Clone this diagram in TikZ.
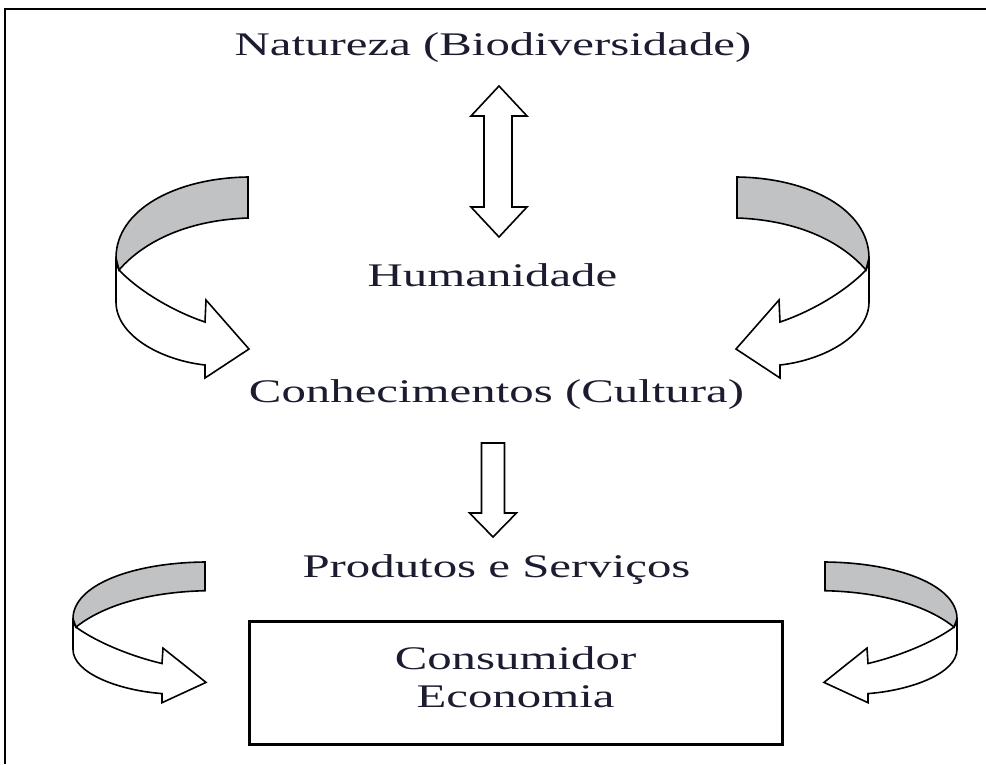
\documentclass[tikz,border=0pt]{standalone}
\usepackage{fontspec}
\setmainfont{Liberation Serif}
\definecolor{ink}{RGB}{28,28,48}
\definecolor{backgray}{RGB}{192,194,196}
\newcommand\widetext[1]{\scalebox{1.48}[1]{#1}}
\newcommand\turnarrow{%
  \path[frontside] (119,270) .. controls (140,292) and (175,312) .. (205,322)
    -- (206,300) -- (249,349) -- (205,378) -- (205,365)
    .. controls (160,360) and (116,335) .. (116,302) -- (116,262) -- cycle;
  \path[backside] (248,177) .. controls (175,178) and (116,210) .. (116,258)
    -- (119,270) .. controls (145,240) and (190,220) .. (248,218) -- cycle;
}
\begin{document}
\begin{tikzpicture}[x=1pt,y=-1pt,
  lbl/.style={anchor=base, text=ink, font=\fontsize{33}{40}\selectfont, inner sep=0pt},
  ribbon/.style={draw=black, line width=1.6pt},
  backside/.style={ribbon, fill=backgray},
  frontside/.style={ribbon, fill=white},
  blockarrow/.style={draw=black, line width=1.6pt, fill=white},
  frame/.style={draw=black, line width=2pt},
  boxstyle/.style={draw=black, line width=3pt, minimum width=533pt, minimum height=123pt, inner sep=0pt}]
\useasboundingbox (0,0) rectangle (986,764);
% frame
\draw[frame] (5,764) -- (5,9) -- (986,9);
% texts
\node[lbl] (nat) at (493,55) {\widetext{Natureza (Biodiversidade)}};
\node[lbl] (hum) at (492.5,286) {\widetext{Humanidade}};
\node[lbl] (con) at (496.5,402) {\widetext{Conhecimentos (Cultura)}};
\node[lbl] (prod) at (496.5,577) {\widetext{Produtos e Serviços}};
\node[boxstyle] (box) at (515.5,682.5) {};
\node[lbl] (cons) at (515.5,669) {\widetext{Consumidor}};
\node[lbl] (econ) at (515.5,707) {\widetext{Economia}};
% double arrow Natureza <-> Humanidade
\path[blockarrow] (499,86) -- (527,116) -- (512,116) -- (512,207) -- (527,207)
  -- (499,237) -- (471,207) -- (484,207) -- (484,116) -- (471,116) -- cycle;
% down arrow Conhecimentos -> Produtos
\path[blockarrow] (481.5,443) -- (504.5,443) -- (504.5,513) -- (516.5,513)
  -- (493,537) -- (469.5,513) -- (481.5,513) -- cycle;
% curved ribbon arrows
\begin{scope}
  \turnarrow
\end{scope}
\begin{scope}[shift={(985,0)}, xscale=-1]
  \turnarrow
\end{scope}
\begin{scope}[shift={(-43,438.1)}, yscale=0.7]
  \turnarrow
\end{scope}
\begin{scope}[shift={(1073,438.1)}, xscale=-1, yscale=0.7]
  \turnarrow
\end{scope}
\end{tikzpicture}
\end{document}
